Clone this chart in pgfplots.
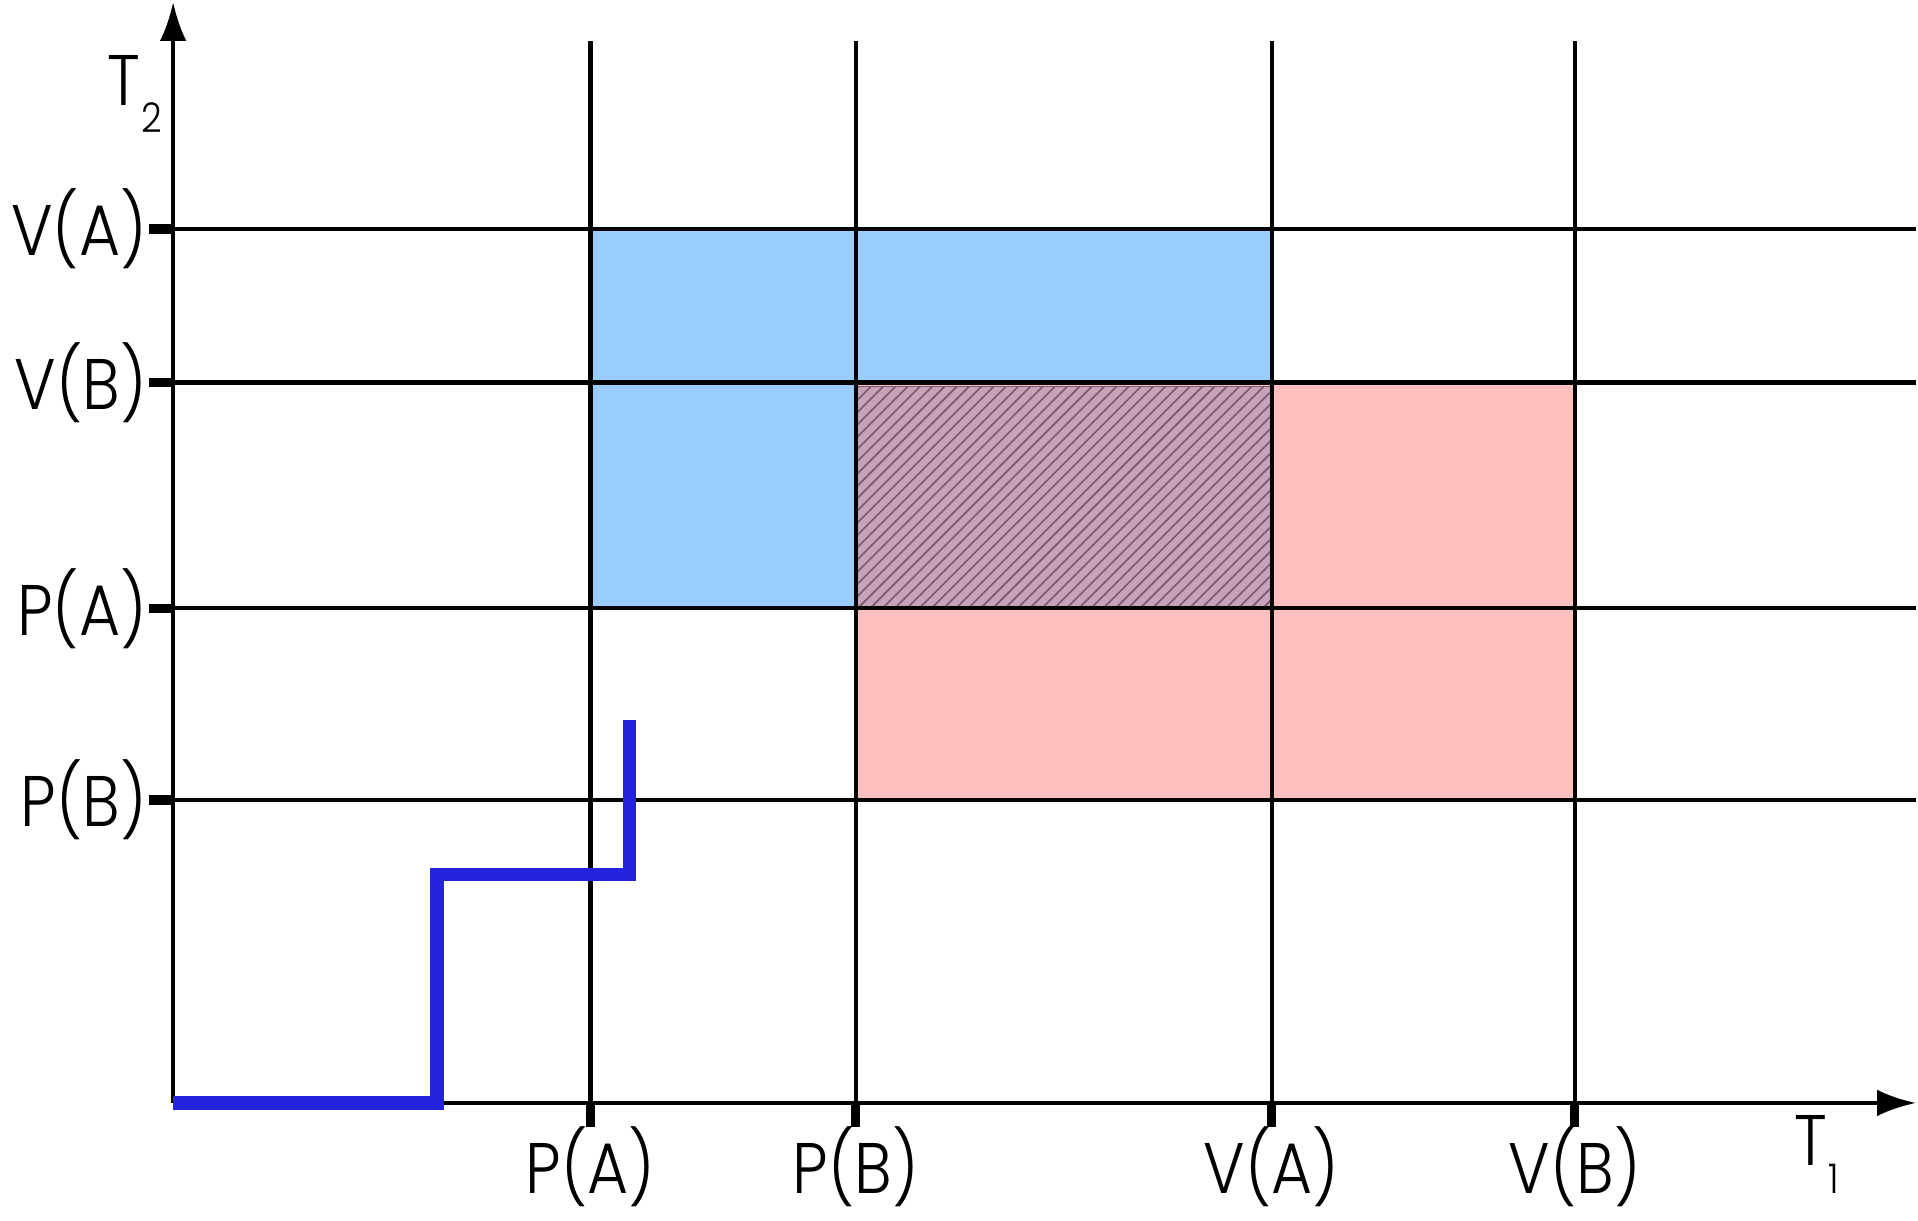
\documentclass[border=0pt]{standalone}
\usepackage{fontspec}
\IfFontExistsTF{Poppins Light}
  {\setmainfont{Poppins Light}[FakeStretch=0.88]}
  {\setmainfont{Poppins}[FakeStretch=0.88]}
\usepackage{pgfplots}
\pgfplotsset{compat=1.18}
\usetikzlibrary{arrows.meta,patterns}
\definecolor{areablue}{RGB}{153,204,255}
\definecolor{areapink}{RGB}{255,191,191}
\definecolor{overlap}{RGB}{200,162,186}
\definecolor{hatch}{RGB}{120,90,110}
\definecolor{pathblue}{RGB}{36,36,221}
\newcommand{\lbl}{\fontsize{17.5}{20}\selectfont}
\newcommand{\sub}[1]{\kern0.3pt\raisebox{-6.8pt}{\fontsize{10}{10}\selectfont #1}}
\begin{document}
\begin{tikzpicture}
\begin{axis}[
  scale only axis,
  width=426pt, height=269.1pt,
  xmin=0, xmax=142, ymin=0, ymax=89.7,
  axis lines=left,
  axis line style={line width=1pt, -{Latex[length=9.5pt,width=6.5pt]}},
  clip=false,
  xtick={34,55.6,89.5,114.2},
  xticklabels={P(A),P(B),V(A),V(B)},
  ytick={24.7,40.3,58.7,71.2},
  yticklabels={P(B),P(A),V(B),V(A)},
  tick align=outside,
  major tick length=5.8pt,
  tick style={line width=2.3pt, black},
  ticklabel style={font=\lbl},
  xticklabel style={yshift=3.5pt},
  yticklabel style={inner xsep=0.5pt},
]
% blue region (A)
\addplot[fill=areablue, draw=none] coordinates {
  (34,40.3) (89.5,40.3) (89.5,71.2) (34,71.2)} -- cycle;
% pink region (B)
\addplot[fill=areapink, draw=none] coordinates {
  (55.6,24.7) (114.2,24.7) (114.2,58.7) (55.6,58.7)} -- cycle;
% overlap
\addplot[fill=overlap, draw=hatch, line width=0.3pt,
  postaction={pattern=north east lines, pattern color=hatch}] coordinates {
  (55.6,40.3) (89.5,40.3) (89.5,58.4) (55.6,58.4)} -- cycle;
% grid lines
\addplot[black, line width=1pt] coordinates {(34,0) (34,86.5)};
\addplot[black, line width=1pt] coordinates {(55.6,0) (55.6,86.5)};
\addplot[black, line width=1pt] coordinates {(89.5,0) (89.5,86.5)};
\addplot[black, line width=1pt] coordinates {(114.2,0) (114.2,86.5)};
\addplot[black, line width=1pt] coordinates {(0,71.2) (142,71.2)};
\addplot[black, line width=1pt] coordinates {(0,58.7) (142,58.7)};
\addplot[black, line width=1pt] coordinates {(0,40.3) (142,40.3)};
\addplot[black, line width=1pt] coordinates {(0,24.7) (142,24.7)};
% joint schedule path
\addplot[pathblue, line width=3.2pt] coordinates {
  (0,0) (21.5,0) (21.5,18.6) (37.2,18.6) (37.2,31.2)};
\node[font=\lbl, anchor=base west, inner sep=0pt] at (axis cs:132,-5.1) {T\sub{1}};
\node[font=\lbl, anchor=base west, inner sep=0pt] at (axis cs:-5.4,81.3) {T\sub{2}};
\end{axis}
\path ([xshift=-2.2pt]current bounding box.west);
\end{tikzpicture}
\end{document}
